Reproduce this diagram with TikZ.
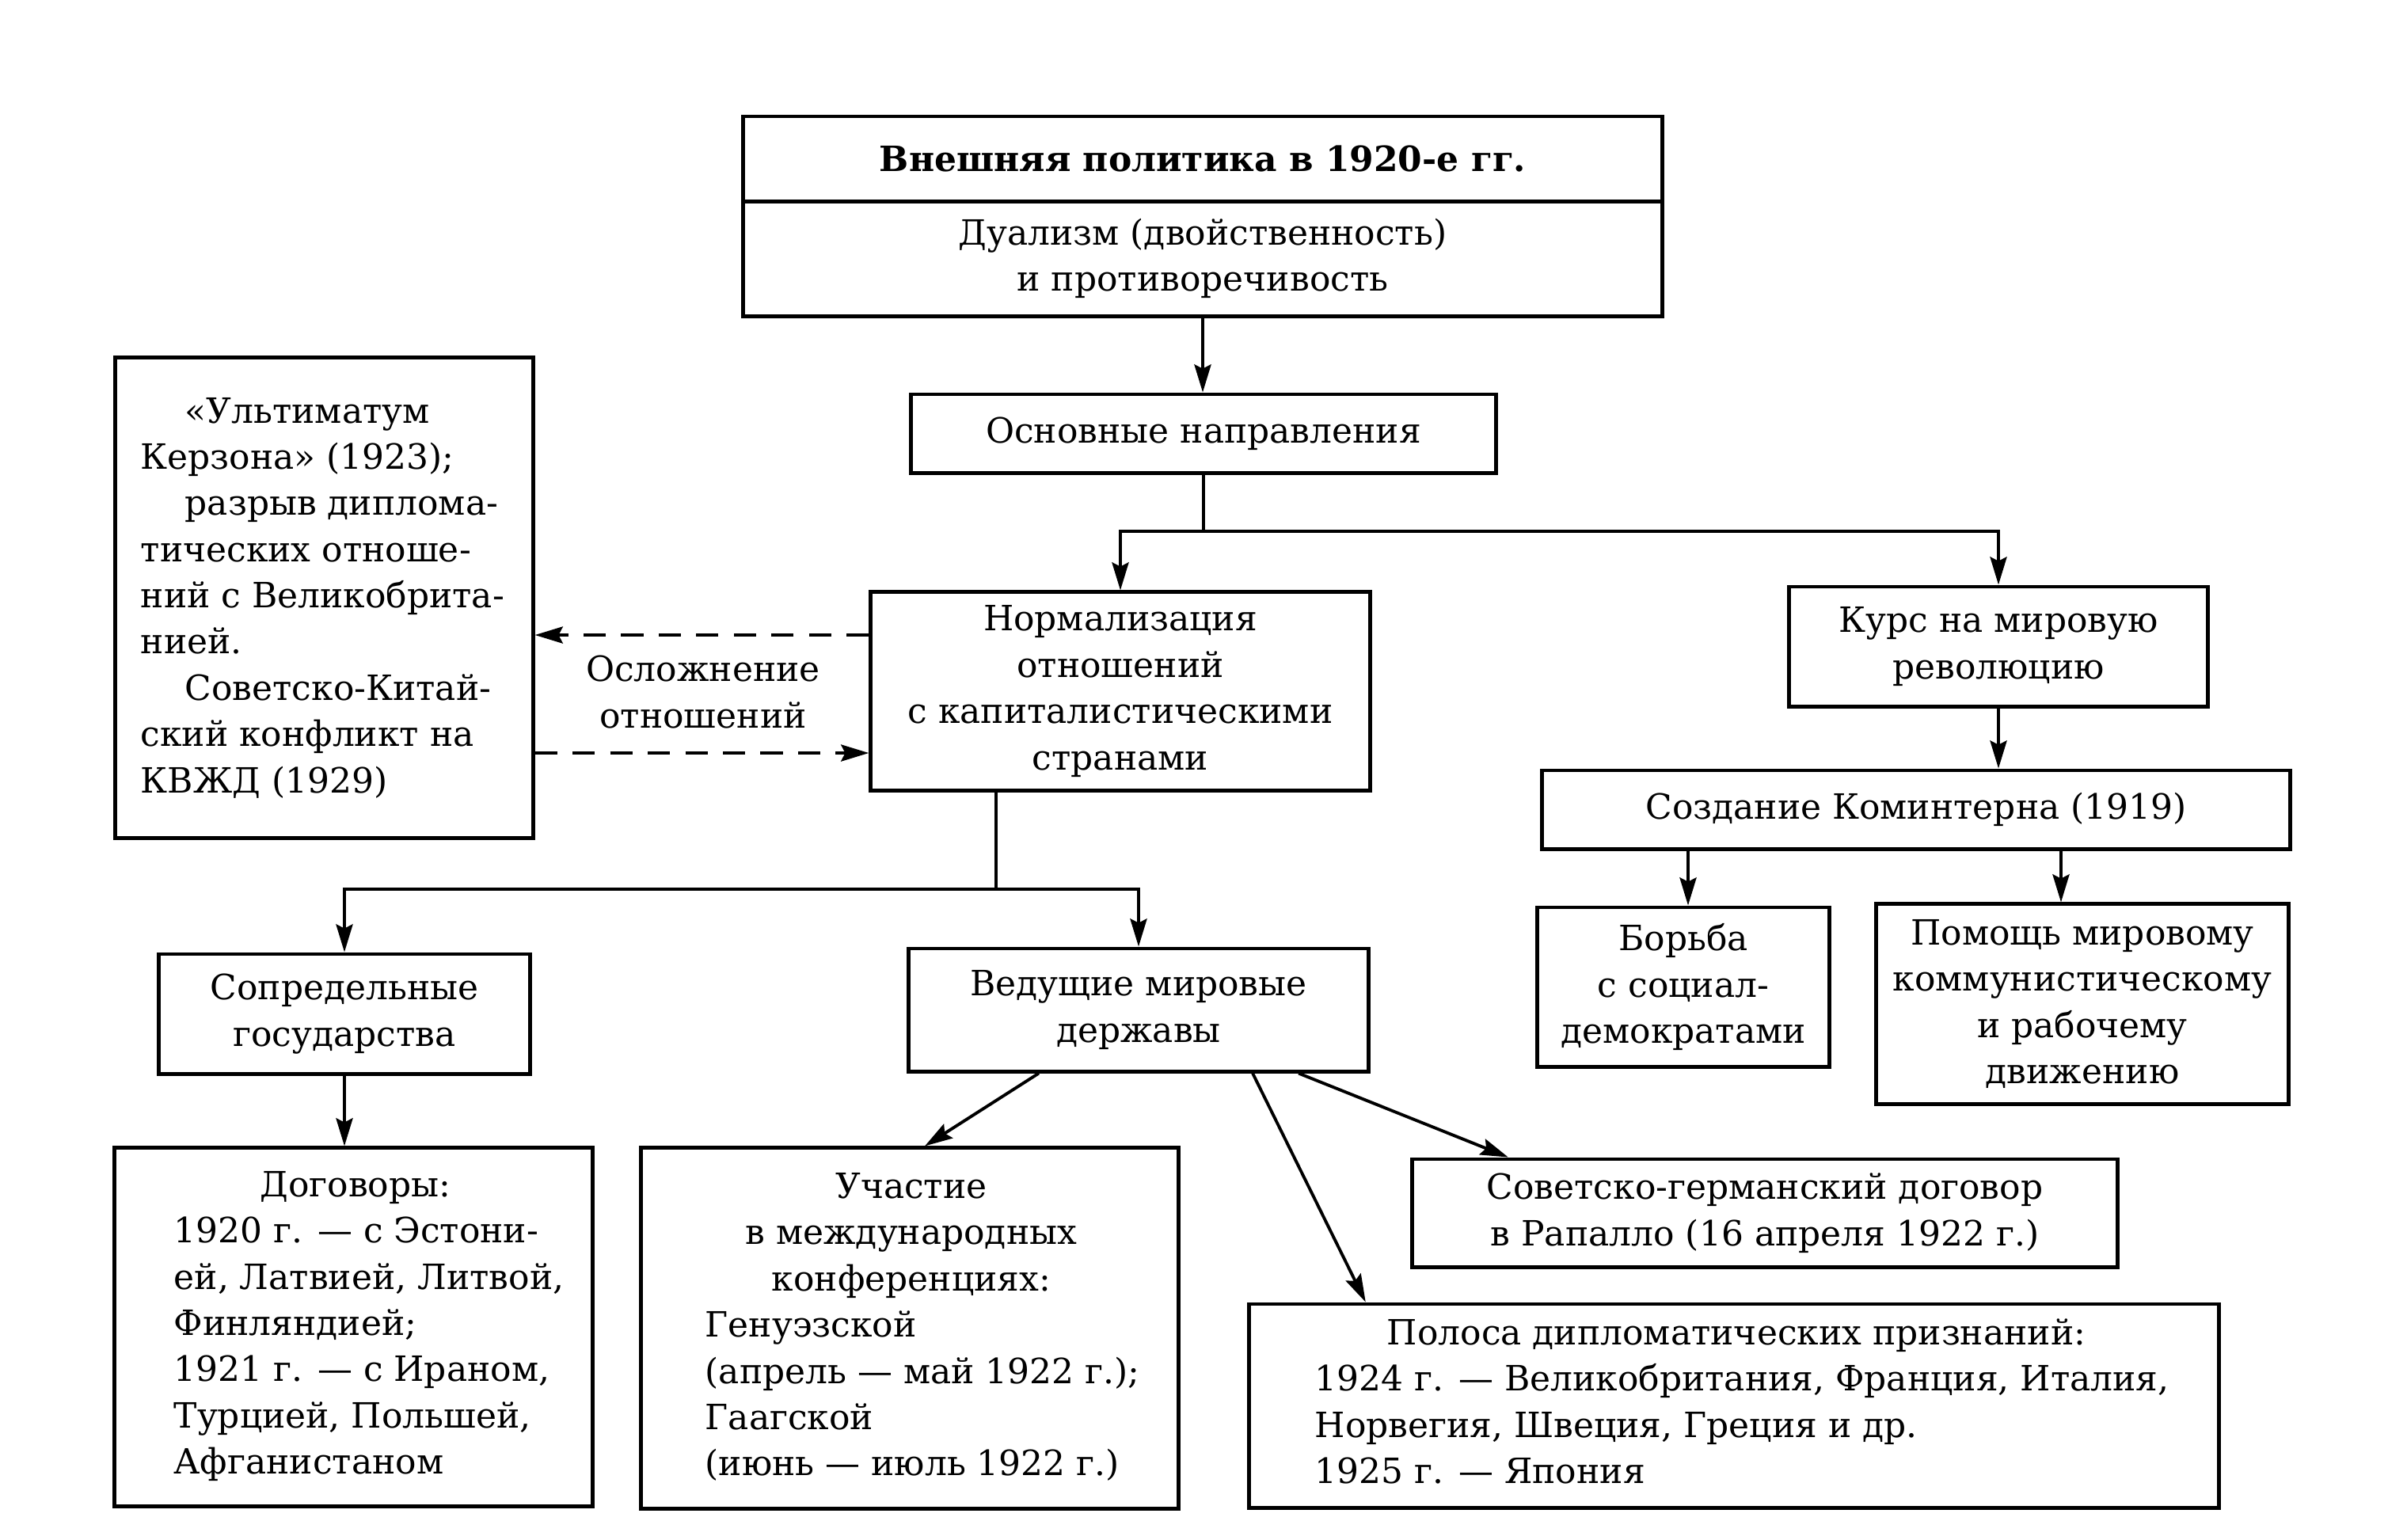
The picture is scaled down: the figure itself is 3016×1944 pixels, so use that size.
\documentclass[tikz,border=0pt]{standalone}
\usepackage{fontspec}
\setmainfont{DejaVu Serif}
\usetikzlibrary{arrows.meta}
\newcommand\myfs{\fontsize{12.5}{16.6}\selectfont}
\begin{document}
\begin{tikzpicture}[x=0.01cm,y=-0.01cm,
  box/.style={draw, line width=1.4pt, inner sep=0pt, align=center, font=\myfs},
  txt/.style={inner sep=0pt, align=left, font=\myfs},
  conn/.style={line width=1.1pt},
  arr/.style={conn, -{Stealth[length=10pt,width=6pt,inset=1.5pt]}},
  dsh/.style={conn, dash pattern=on 8pt off 5.5pt},
]
\useasboundingbox (0,0) rectangle (3016,1944);

% boxes
\node[box, minimum width=11.60cm, minimum height=1.07cm] (titleA) at (1519,200.5) {\bfseries Внешняя политика в 1920-е гг.};
\node[box, minimum width=11.60cm, minimum height=1.45cm] (titleB) at (1519,326.5) {Дуализм (двойственность)\\и противоречивость};
\node[box, minimum width=7.38cm, minimum height=0.99cm] (osn) at (1520,547.5) {Основные направления};
\node[box, minimum width=6.30cm, minimum height=2.50cm] (norm) at (1415,873) {Нормализация\\отношений\\с капиталистическими\\странами};
\node[box, minimum width=5.28cm, minimum height=1.51cm] (kurs) at (2524,816.5) {Курс на мировую\\революцию};
\node[box, minimum width=9.44cm, minimum height=0.99cm] (kom) at (2420,1022.5) {Создание Коминтерна (1919)};
\node[box, minimum width=3.68cm, minimum height=2.01cm] (borba) at (2126,1246.5) {Борьба\\с социал-\\демократами};
\node[box, minimum width=5.20cm, minimum height=2.52cm] (pom) at (2630,1268) {Помощь мировому\\коммунистическому\\и рабочему\\движению};
\node[box, minimum width=5.27cm, minimum height=6.06cm] (lbox) at (409.5,755) {};
\node[txt, anchor=west] (lbox-t) at (177,755) {\hspace*{0.56cm}«Ультиматум\\Керзона» (1923);\\\hspace*{0.56cm}разрыв диплома-\\тических отноше-\\ний с Великобрита-\\нией.\\\hspace*{0.56cm}Советско-Китай-\\ский конфликт на\\КВЖД (1929)};
\node[box, minimum width=4.68cm, minimum height=1.51cm] (sopr) at (435,1280.5) {Сопредельные\\государства};
\node[box, minimum width=5.80cm, minimum height=1.55cm] (ved) at (1438,1275.5) {Ведущие мировые\\державы};
\node[box, minimum width=6.03cm, minimum height=4.52cm] (dog) at (446.5,1676) {};
\node[txt, anchor=west] (dog-t) at (219,1675) {\hspace*{2.29cm}\makebox[0pt][c]{Договоры:}\\1920 г. — с Эстони-\\ей, Латвией, Литвой,\\Финляндией;\\1921 г. — с Ираном,\\Турцией, Польшей,\\Афганистаном};
\node[box, minimum width=6.78cm, minimum height=4.55cm] (uch) at (1149,1677.5) {};
\node[txt, anchor=west] (uch-t) at (890,1676) {\hspace*{2.60cm}\makebox[0pt][c]{Участие}\\\hspace*{2.60cm}\makebox[0pt][c]{в международных}\\\hspace*{2.60cm}\makebox[0pt][c]{конференциях:}\\Генуэзской\\(апрель — май 1922 г.);\\Гаагской\\(июнь — июль 1922 г.)};
\node[box, minimum width=8.90cm, minimum height=1.36cm] (sovger) at (2229,1532) {Советско-германский договор\\в Рапалло (16 апреля 1922 г.)};
\node[box, minimum width=12.24cm, minimum height=2.57cm] (pol) at (2190,1775.5) {};
\node[txt, anchor=west] (pol-t) at (1660,1770) {\hspace*{5.32cm}\makebox[0pt][c]{Полоса дипломатических признаний:}\\1924 г. — Великобритания, Франция, Италия,\\Норвегия, Швеция, Греция и др.\\1925 г. — Япония};
\node[txt, align=center] (osl) at (888,874) {Осложнение\\отношений};

% connectors
\draw[arr] (titleB.south) -- (titleB.south |- osn.north);
\coordinate (j1) at (1520,671);
\draw[conn] (osn.south) -- (j1);
\draw[arr] (j1) -| (norm.north);
\draw[arr] (j1) -| (kurs.north);
\coordinate (j2) at (1258,1123);
\draw[conn] (norm.south -| j2) -- (j2);
\draw[arr] (j2) -| (sopr.north);
\draw[arr] (j2) -| (ved.north);
\draw[arr] (sopr.south) -- (sopr.south |- dog.north);
\draw[arr] (kurs.south) -- (kurs.south |- kom.north);
\draw[arr] ([xshift=0.06cm]borba.north |- kom.south) -- ([xshift=0.06cm]borba.north);
\draw[arr] ([xshift=-0.27cm]pom.north |- kom.south) -- ([xshift=-0.27cm]pom.north);
\draw[arr] ([xshift=-1.26cm]ved.south) -- ([xshift=0.19cm]uch.north);
\draw[arr] ([xshift=1.44cm]ved.south) -- ([xshift=-4.65cm]pol.north);
\draw[arr] ([xshift=2.02cm]ved.south) -- ([xshift=-3.24cm]sovger.north);
\coordinate (d1) at (0,802);
\coordinate (d2) at (0,951);
\draw[dsh, arr] (norm.west |- d1) -- (lbox.east |- d1);
\draw[dsh, arr] (lbox.east |- d2) -- (norm.west |- d2);
\end{tikzpicture}
\end{document}
